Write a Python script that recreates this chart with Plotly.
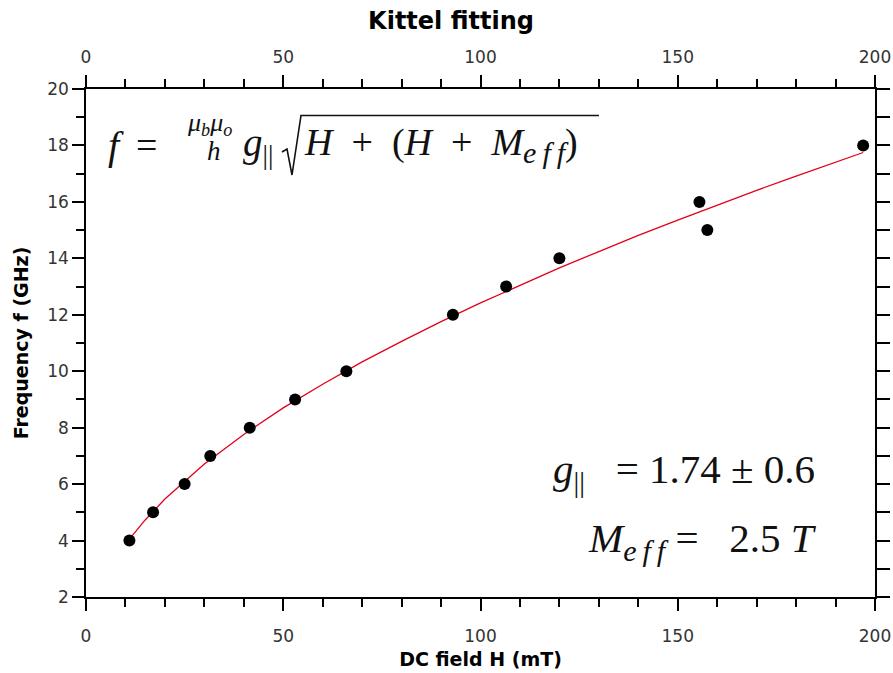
import plotly.graph_objects as go

# Measured resonance data: DC field (mT) vs. resonance frequency (GHz)
field_mT = [11, 17, 25, 31.5, 41.5, 53, 66, 93, 106.5, 120, 155.5, 157.5, 197]
freq_GHz = [4, 5, 6, 7, 8, 9, 10, 12, 13, 14, 16, 15, 18]

# Kittel fit curve (g = 1.74, M_eff = 2.5 T), sampled along the field axis
fit_field_mT = [11, 15, 20, 30, 40, 50, 60, 70, 80, 90, 100, 110, 120,
                130, 140, 150, 160, 170, 180, 190, 197]
fit_freq_GHz = [4.05, 4.73, 5.47, 6.71, 7.76, 8.70, 9.54, 10.33, 11.06, 11.76,
                12.42, 13.05, 13.66, 14.24, 14.81, 15.35, 15.89, 16.41, 16.91,
                17.41, 17.75]

x_ticks = [0, 50, 100, 150, 200]
y_ticks = [2, 4, 6, 8, 10, 12, 14, 16, 18, 20]

W, H = 893, 673
L, R, T, B = 86, 875, 89, 597


def px(x):
    return (x - L) / (R - L)


def py(y):
    return (B - y) / (B - T)


fig = go.Figure()
fig.add_trace(go.Scatter(x=fit_field_mT, y=fit_freq_GHz, mode="lines",
                         line=dict(color="#e3001b", width=1.3),
                         showlegend=False, hoverinfo="skip"))
fig.add_trace(go.Scatter(x=field_mT, y=freq_GHz, mode="markers",
                         marker=dict(color="black", size=12),
                         showlegend=False))
# carrier trace for the mirrored top/right axes
fig.add_trace(go.Scatter(x=[0], y=[2], xaxis="x2", yaxis="y2", mode="markers",
                         marker=dict(opacity=0), showlegend=False,
                         hoverinfo="skip"))

tick_font = dict(family="DejaVu Sans", size=17, color="#333")
title_font = dict(family="DejaVu Sans", size=19, color="black")
axis_common = dict(showline=True, linecolor="black", linewidth=1.5,
                   ticks="outside", tickcolor="black", tickwidth=1.5,
                   showgrid=False, zeroline=False, automargin=False,
                   tickfont=tick_font)
minor_x = dict(dtick=10, ticklen=8, tickwidth=1.5, tickcolor="black",
               ticks="outside")
minor_y = dict(dtick=1, ticklen=8, tickwidth=1.5, tickcolor="black",
               ticks="outside")

serif = "Liberation Serif"
ink = "#111"
EFF = ('<sub><span style="font-size:30px"><i>e\u2009f\u2009f</i>'
       '</span></sub>')


def label(x, y, text, size, anchor="left"):
    return dict(x=px(x), y=py(y), xref="paper", yref="paper", text=text,
                showarrow=False, xanchor=anchor, yanchor="middle",
                font=dict(family=serif, size=size, color=ink))


annotations = [
    label(106, 145, "<i>f</i>", 40),
    label(134, 145, "=", 38),
    label(185, 124, "<i>μ<sub>b</sub>μ<sub>o</sub></i>", 26),
    label(205, 151, "<i>h</i>", 27),
    label(241, 145, "<i>g</i><sub>||</sub>", 39),
    label(302, 145,
          "<i>H</i>\u2002+\u2002(<i>H</i>\u2002+\u2002<i>M</i>" + EFF + ")",
          38),
    label(817, 472, "<i>g</i><sub>||</sub>\u2002 = 1.74 ± 0.6", 41,
          anchor="right"),
    label(819, 541, "<i>M</i>" + EFF + " = \u20022.5 <i>T</i>", 41,
          anchor="right"),
]

# radical sign with its overbar
rad = [(282, 152), (287, 149), (292, 175), (301, 115.5), (599, 115.5)]
path = "M " + " L ".join(f"{px(a):.5f},{py(b):.5f}" for a, b in rad)
shapes = [dict(type="path", xref="paper", yref="paper", path=path,
               line=dict(color=ink, width=1.6))]

fig.update_layout(
    width=W, height=H,
    margin=dict(l=L, r=W - R, t=T, b=H - B, pad=0, autoexpand=False),
    paper_bgcolor="white", plot_bgcolor="white",
    title=dict(text="<b>Kittel fitting</b>", x=451 / W, xanchor="center",
               xref="container", y=1 - 21 / H, yanchor="middle",
               yref="container", automargin=False,
               font=dict(family="DejaVu Sans", size=24, color="black")),
    xaxis=dict(range=[0, 200], tickvals=x_ticks, minor=minor_x, ticklen=12,
               ticklabelstandoff=11,
               title=dict(text="<b>DC field H (mT)</b>", font=title_font,
                          standoff=8),
               **axis_common),
    xaxis2=dict(range=[0, 200], tickvals=x_ticks, overlaying="x", side="top",
                minor=minor_x, ticklen=12, ticklabelstandoff=5,
                **axis_common),
    yaxis=dict(range=[2, 20], tickvals=y_ticks, minor=minor_y, ticklen=12,
               title=dict(text="<b>Frequency f (GHz)</b>", font=title_font,
                          standoff=14),
               **axis_common),
    yaxis2=dict(range=[2, 20], dtick=1, overlaying="y", side="right",
                showticklabels=False, ticklen=13, **axis_common),
    annotations=annotations,
    shapes=shapes,
)

fig.write_html("out.html")
